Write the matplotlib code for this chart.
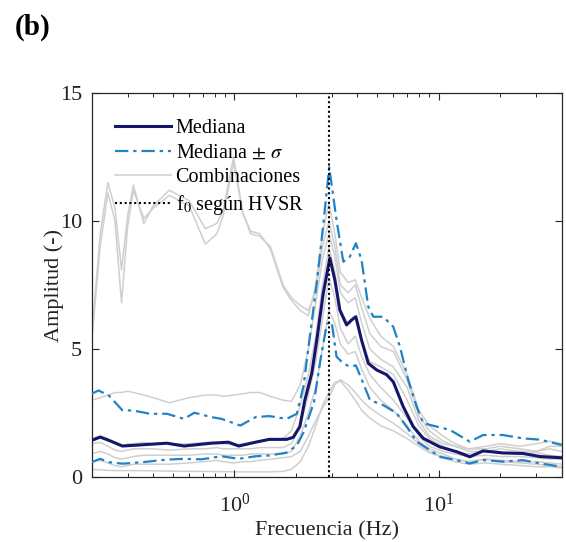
import matplotlib
matplotlib.use("Agg")
import matplotlib.pyplot as plt
from matplotlib.ticker import LogLocator, FixedLocator, NullFormatter

plt.rcParams['font.family'] = ['Liberation Serif', 'DejaVu Serif']
plt.rcParams['mathtext.fontset'] = 'stix'

# ---------------- data ----------------
f0 = 2.91

freq_med = [0.2, 0.22, 0.243, 0.283, 0.356, 0.467, 0.566, 0.77, 0.934, 1.05, 1.27, 1.48, 1.80, 1.94, 2.09,
            2.21, 2.39, 2.53, 2.72, 2.93, 3.1, 3.28, 3.54, 3.74, 3.93, 4.19, 4.52, 4.97, 5.55, 5.99, 6.7,
            7.5, 8.4, 10.1, 12.2, 14.2, 16.5, 20.6, 25.8, 31.3, 40]
mediana = [1.43, 1.56, 1.43, 1.21, 1.26, 1.32, 1.21, 1.32, 1.36, 1.21, 1.36, 1.47, 1.47, 1.55, 1.97,
           3.0, 4.05, 5.35, 7.17, 8.55, 7.7, 6.52, 5.94, 6.13, 6.26, 5.35, 4.44, 4.18, 4.0, 3.72, 2.75,
           1.97, 1.51, 1.18, 0.99, 0.79, 1.02, 0.94, 0.92, 0.8, 0.75]

freq_up = [0.2, 0.216, 0.243, 0.283, 0.318, 0.385, 0.467, 0.566, 0.636, 0.77, 0.865, 1.069, 1.27, 1.48,
           1.80, 2.02, 2.18, 2.34, 2.53, 2.7, 2.91, 3.16, 3.41, 3.67, 3.93, 4.19, 4.52, 4.78, 5.35, 5.99,
           6.46, 7.09, 7.80, 8.40, 9.76, 11.34, 14.2, 16.5, 20.6, 25.8, 31.3, 40]
mediana_mas = [3.25, 3.38, 3.18, 2.6, 2.6, 2.47, 2.47, 2.27, 2.51, 2.34, 2.27, 2.01, 2.34, 2.38,
               2.27, 2.47, 3.57, 5.5, 7.6, 9.6, 12.1, 10.04, 8.41, 8.6, 9.13, 8.48, 6.65, 6.26, 6.26, 5.87,
               5.09, 3.79, 2.75, 2.1, 1.97, 1.84, 1.38, 1.64, 1.64, 1.51, 1.46, 1.25]

freq_lo = [0.2, 0.22, 0.243, 0.283, 0.356, 0.467, 0.566, 0.69, 0.865, 1.049, 1.27, 1.48, 1.80, 2.02,
           2.18, 2.45, 2.64, 2.83, 2.99, 3.16, 3.41, 3.67, 3.93, 4.27, 4.61, 5.35, 6.22, 6.96, 7.8, 9.06,
           10.1, 12.2, 14.2, 16.5, 20.6, 25.8, 31.3, 40]
mediana_menos = [0.58, 0.71, 0.58, 0.52, 0.58, 0.68, 0.71, 0.69, 0.81, 0.71, 0.81, 0.84, 0.95, 1.23,
                 1.75, 2.92, 4.61, 5.97, 6.07, 4.7, 4.44, 4.31, 4.36, 3.66, 3.0, 2.81, 2.49, 1.97, 1.38, 1.05,
                 0.79, 0.66, 0.53, 0.66, 0.6, 0.66, 0.53, 0.4]

freq_comb = [0.2, 0.22, 0.24, 0.26, 0.28, 0.30, 0.32, 0.36, 0.40, 0.48, 0.6, 0.72, 0.82, 0.88, 0.99,
             1.1, 1.2, 1.33, 1.5, 1.73, 1.9, 2.1, 2.3, 2.5, 2.7, 2.9, 3.1, 3.3, 3.6, 3.9, 4.2, 4.6,
             5.2, 6.0, 7.0, 8.0, 9.0, 10.5, 12, 14, 17, 20, 25, 30, 35, 40]
comb_1 = [5.5, 9.5, 11.5, 10.5, 8.1, 10.2, 11.4, 9.9, 10.6, 11.2, 10.8, 9.7, 9.9, 10.4, 12.5,
          10.3, 9.6, 9.5, 8.9, 7.4, 6.9, 6.5, 6.3, 7.5, 9.5, 10.7, 9.5, 8.0, 7.6, 7.7, 7.0, 6.2,
          5.5, 5.1, 4.0, 2.6, 2.0, 1.6, 1.3, 1.1, 1.1, 1.2, 1.1, 1.0, 1.1, 1.0]
comb_2 = [5.3, 9.0, 11.1, 10.0, 6.8, 9.8, 11.2, 10.1, 10.5, 11.0, 10.6, 9.1, 9.5, 10.2, 12.3,
          10.3, 9.5, 9.4, 9.0, 7.5, 7.0, 6.7, 6.5, 7.2, 9.0, 10.0, 9.0, 7.5, 7.2, 7.5, 6.6, 5.6,
          5.1, 4.9, 3.8, 2.4, 1.8, 1.4, 1.2, 1.0, 1.0, 1.1, 1.0, 1.0, 1.2, 1.2]
comb_3 = [3.0, 3.1, 3.2, 3.3, 3.3, 3.35, 3.3, 3.2, 3.1, 2.9, 3.1, 3.2, 3.2, 3.15, 3.2,
          3.25, 3.3, 3.3, 3.15, 3.0, 2.95, 3.6, 5.0, 6.8, 8.5, 9.5, 8.6, 7.2, 6.8, 7.0, 6.0, 5.0,
          4.6, 4.3, 3.5, 2.2, 1.6, 1.3, 1.2, 1.1, 1.2, 1.3, 1.2, 1.3, 1.4, 1.3]
comb_4 = [1.5, 1.6, 1.5, 1.3, 1.2, 1.3, 1.3, 1.35, 1.3, 1.3, 1.3, 1.35, 1.35, 1.3, 1.25,
          1.3, 1.35, 1.4, 1.45, 1.5, 1.8, 2.8, 4.0, 5.5, 7.5, 9.0, 8.0, 6.5, 6.0, 6.3, 5.3, 4.5,
          4.3, 4.0, 3.0, 2.0, 1.5, 1.2, 1.0, 0.9, 1.0, 0.95, 0.9, 0.95, 0.85, 0.8]
comb_5 = [1.3, 1.35, 1.2, 1.05, 1.0, 1.05, 1.1, 1.1, 1.1, 1.05, 1.1, 1.1, 1.15, 1.1, 1.1,
          1.1, 1.1, 1.15, 1.15, 1.15, 1.3, 2.0, 3.2, 4.5, 6.2, 7.8, 7.0, 5.8, 5.2, 5.5, 4.7, 4.0,
          3.5, 3.0, 2.3, 1.6, 1.2, 1.0, 0.9, 0.8, 0.85, 0.8, 0.8, 0.75, 0.7, 0.7]
comb_6 = [0.9, 1.0, 0.9, 0.75, 0.7, 0.75, 0.8, 0.85, 0.85, 0.85, 0.85, 0.9, 0.9, 0.85, 0.85,
          0.85, 0.9, 0.9, 0.9, 0.9, 1.0, 1.6, 2.5, 3.5, 5.0, 6.5, 6.0, 5.2, 4.8, 4.9, 4.2, 3.5,
          3.0, 2.6, 2.0, 1.4, 1.1, 0.9, 0.7, 0.6, 0.7, 0.65, 0.6, 0.6, 0.55, 0.5]
comb_7 = [0.6, 0.65, 0.55, 0.45, 0.4, 0.45, 0.5, 0.5, 0.5, 0.5, 0.55, 0.6, 0.65, 0.6, 0.55,
          0.6, 0.6, 0.65, 0.7, 0.75, 0.8, 1.0, 1.6, 2.2, 2.7, 3.1, 3.6, 3.8, 3.6, 3.3, 3.0, 2.7,
          2.4, 2.1, 1.7, 1.3, 1.0, 0.8, 0.7, 0.6, 0.7, 0.6, 0.55, 0.5, 0.45, 0.4]
comb_8 = [0.3, 0.28, 0.26, 0.25, 0.25, 0.25, 0.25, 0.25, 0.24, 0.23, 0.22, 0.22, 0.21, 0.21, 0.2,
          0.2, 0.2, 0.2, 0.2, 0.22, 0.3, 0.6, 1.2, 2.0, 2.8, 3.3, 3.7, 3.75, 3.4, 3.0, 2.6, 2.3,
          2.0, 1.8, 1.5, 1.2, 0.95, 0.75, 0.6, 0.5, 0.55, 0.5, 0.45, 0.4, 0.4, 0.35]
combinaciones = [comb_1, comb_2, comb_3, comb_4, comb_5, comb_6, comb_7, comb_8]

# ---------------- styles ----------------
c_med = '#15156b'
c_sig = '#2182c4'
c_gray = '#cfcfcf'
dashdot = (0, (6, 2.2, 1.5, 2.2))

fig = plt.figure(figsize=(5.66, 5.42), dpi=100)
ax = fig.add_axes([91.7 / 566, 65 / 542, 470 / 566, 384 / 542])

for i, comb in enumerate(combinaciones):
    ax.plot(freq_comb, comb, color=c_gray, lw=1.1, zorder=1,
            label='Combinaciones' if i == 0 else None)
ax.plot(freq_up, mediana_mas, color=c_sig, lw=1.6, ls=dashdot, zorder=3,
        label=r'Mediana $\pm$ $\sigma$')
ax.plot(freq_lo, mediana_menos, color=c_sig, lw=1.6, ls=dashdot, zorder=3)
ax.plot(freq_med, mediana, color=c_med, lw=2.2, zorder=4, label='Mediana')
ax.axvline(f0, color='black', lw=1.5, ls=(0, (1, 1.3)), zorder=5, label=r'f$_0$ según HVSR')

ax.set_xscale('log')
ax.set_xlim(0.2, 40)
ax.set_ylim(0, 15)
ax.yaxis.set_major_locator(FixedLocator([0, 5, 10, 15]))
ax.xaxis.set_minor_locator(LogLocator(base=10, subs=range(2, 10), numticks=20))
ax.xaxis.set_minor_formatter(NullFormatter())

for s in ax.spines.values():
    s.set_color('#262626')
    s.set_linewidth(0.9)
ax.tick_params(which='both', direction='in', top=True, right=True, colors='#262626',
               labelcolor='#222222', labelsize=16)
ax.tick_params(which='major', length=5, width=0.8)
ax.tick_params(which='minor', length=3, width=0.7)
ax.tick_params(axis='x', which='major', pad=12)
ax.tick_params(axis='y', which='major', pad=7)

ax.set_xlabel('Frecuencia (Hz)', fontsize=16, color='#222222', labelpad=3)
ax.set_ylabel('Amplitud (-)', fontsize=16, color='#222222', labelpad=-3)

h, l = ax.get_legend_handles_labels()
order = ['Mediana', r'Mediana $\pm$ $\sigma$', 'Combinaciones', r'f$_0$ según HVSR']
hl = {lab: hh for hh, lab in zip(h, l)}
ax.legend([hl[o] for o in order], order, loc='upper left', bbox_to_anchor=(0.05, 0.932),
          frameon=False, fontsize=14.5, handlelength=2.75, handletextpad=0.25,
          labelspacing=0.27, borderaxespad=0, borderpad=0)

fig.text(15 / 566, 1 - 14 / 542, '(b)', fontsize=21, fontweight='bold', va='top', ha='left')

fig.savefig('out.png', dpi=100, facecolor='white')
